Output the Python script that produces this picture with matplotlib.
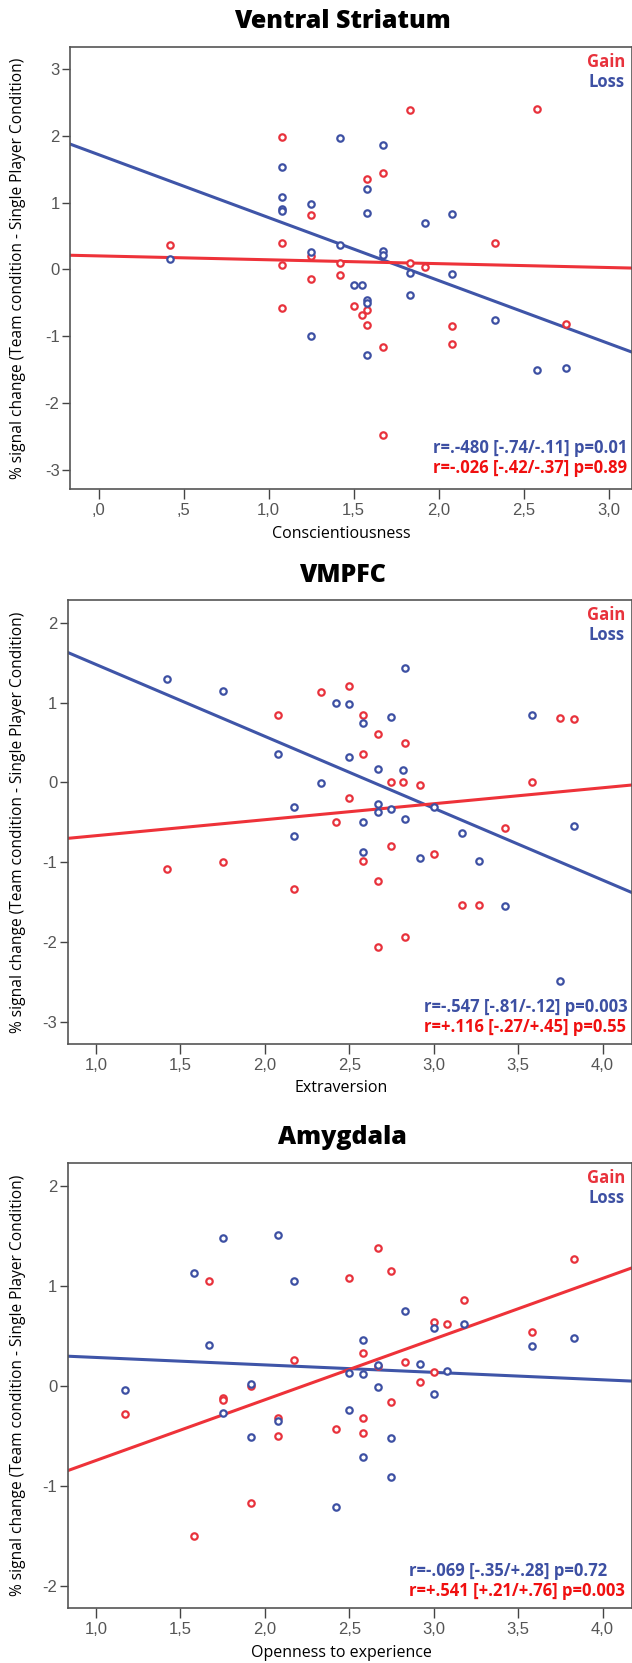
import numpy as np
import matplotlib
matplotlib.use("Agg")
import matplotlib.pyplot as plt

W, H = 632, 1663
RED = "#e8323c"
BLUE = "#3d50a3"
RED_TXT = "#f01010"

# ---- Ventral Striatum vs Conscientiousness ----
vs_gain_x = [0.42, 1.08, 1.08, 1.08, 1.08, 1.25, 1.25, 1.25, 1.42, 1.42, 1.50, 1.55, 1.58,
             1.58, 1.58, 1.67, 1.67, 1.67, 1.83, 1.83, 1.92, 2.08, 2.08, 2.33, 2.58, 2.75]
vs_gain_y = [0.36, 1.98, 0.40, 0.06, -0.58, 0.81, 0.20, -0.15, 0.09, -0.08, -0.54, -0.68, 1.35,
             -0.60, -0.83, 1.44, -1.16, -2.48, 2.39, 0.09, 0.04, -0.84, -1.11, 0.40, 2.40, -0.82]
vs_loss_x = [0.42, 1.08, 1.08, 1.08, 1.08, 1.25, 1.25, 1.25, 1.42, 1.42, 1.50, 1.55, 1.58, 1.58,
             1.58, 1.58, 1.58, 1.67, 1.67, 1.67, 1.83, 1.83, 1.92, 2.08, 2.08, 2.33, 2.58, 2.75]
vs_loss_y = [0.15, 1.54, 1.09, 0.91, 0.88, 0.98, 0.26, -1.00, 1.97, 0.37, -0.23, -0.23, 1.21, 0.85,
             -0.46, -0.50, -1.28, 1.87, 0.28, 0.22, -0.05, -0.38, 0.70, 0.83, -0.07, -0.75, -1.51, -1.47]
vs_fit_gain = (0.203, -0.058)   # intercept, slope
vs_fit_loss = (1.718, -0.942)

# ---- VMPFC vs Extraversion ----
vm_gain_x = [1.42, 1.75, 2.08, 2.17, 2.33, 2.42, 2.50, 2.50, 2.58, 2.58, 2.58, 2.67, 2.67, 2.67,
             2.75, 2.75, 2.82, 2.83, 2.83, 2.92, 3.00, 3.17, 3.27, 3.42, 3.58, 3.75, 3.83]
vm_gain_y = [-1.08, -1.00, 0.85, -1.33, 1.13, -0.50, 1.21, -0.20, 0.84, 0.35, -0.98, 0.61, -1.23, -2.06,
             0.00, -0.80, 0.00, 0.49, -1.94, -0.03, -0.89, -1.53, -1.53, -0.57, 0.00, 0.81, 0.79]
vm_loss_x = [1.42, 1.75, 2.08, 2.17, 2.17, 2.33, 2.42, 2.50, 2.50, 2.58, 2.58, 2.58, 2.67, 2.67,
             2.67, 2.75, 2.75, 2.82, 2.83, 2.83, 2.92, 3.00, 3.17, 3.27, 3.42, 3.58, 3.75, 3.83]
vm_loss_y = [1.29, 1.15, 0.35, -0.31, -0.67, -0.01, 1.00, 0.98, 0.32, 0.74, -0.49, -0.87, 0.17, -0.27,
             -0.37, 0.82, -0.33, 0.15, 1.43, -0.46, -0.95, -0.31, -0.63, -0.98, -1.55, 0.85, -2.48, -0.55]
vm_fit_gain = (-0.867, 0.200)
vm_fit_loss = (2.377, -0.900)

# ---- Amygdala vs Openness ----
am_gain_x = [1.17, 1.58, 1.67, 1.75, 1.75, 1.92, 1.92, 2.08, 2.08, 2.17, 2.42, 2.50, 2.58, 2.58,
             2.58, 2.67, 2.67, 2.75, 2.75, 2.83, 2.92, 3.00, 3.00, 3.08, 3.18, 3.58, 3.83]
am_gain_y = [-0.28, -1.50, 1.05, -0.12, -0.14, 0.00, -1.17, -0.32, -0.50, 0.26, -0.43, 1.08, 0.33, -0.32,
             -0.47, 1.38, 0.20, 1.15, -0.16, 0.24, 0.04, 0.64, 0.14, 0.62, 0.86, 0.54, 1.27]
am_loss_x = [1.17, 1.58, 1.67, 1.75, 1.75, 1.92, 1.92, 2.08, 2.08, 2.17, 2.42, 2.50, 2.50, 2.58,
             2.58, 2.58, 2.67, 2.67, 2.75, 2.75, 2.83, 2.92, 3.00, 3.00, 3.08, 3.18, 3.58, 3.83]
am_loss_y = [-0.04, 1.13, 0.41, 1.48, -0.27, 0.02, -0.51, 1.51, -0.35, 1.05, -1.21, 0.13, -0.24, 0.46,
             0.12, -0.71, 0.21, -0.01, -0.52, -0.91, 0.75, 0.22, 0.58, -0.08, 0.15, 0.62, 0.40, 0.48]
am_fit_gain = (-1.352, 0.607)
am_fit_loss = (0.360, -0.0745)

panels = [
    dict(title="Ventral Striatum", xlabel="Conscientiousness",
         gx=vs_gain_x, gy=vs_gain_y, lx=vs_loss_x, ly=vs_loss_y,
         fg=vs_fit_gain, fl=vs_fit_loss,
         xlim=(-0.169, 3.137), ylim=(-3.29, 3.334),
         xticks=[0, 0.5, 1, 1.5, 2, 2.5, 3], yticks=[-3, -2, -1, 0, 1, 2, 3],
         stat_loss="r=.-480 [-.74/-.11] p=0.01", stat_gain="r=-.026 [-.42/-.37] p=0.89",
         box=(70, 46.7, 632, 489.3), title_y=21, xlab_y=534, stat_x=433, stat_y=(448, 468)),
    dict(title="VMPFC", xlabel="Extraversion",
         gx=vm_gain_x, gy=vm_gain_y, lx=vm_loss_x, ly=vm_loss_y,
         fg=vm_fit_gain, fl=vm_fit_loss,
         xlim=(0.833, 4.174), ylim=(-3.28, 2.29),
         xticks=[1, 1.5, 2, 2.5, 3, 3.5, 4], yticks=[-3, -2, -1, 0, 1, 2],
         stat_loss="r=-.547 [-.81/-.12] p=0.003", stat_gain="r=+.116 [-.27/+.45] p=0.55",
         box=(67.7, 599.5, 632, 1044.4), title_y=575, xlab_y=1088, stat_x=424, stat_y=(1007.5, 1027.5)),
    dict(title="Amygdala", xlabel="Openness to experience",
         gx=am_gain_x, gy=am_gain_y, lx=am_loss_x, ly=am_loss_y,
         fg=am_fit_gain, fl=am_fit_loss,
         xlim=(0.833, 4.174), ylim=(-2.22, 2.23),
         xticks=[1, 1.5, 2, 2.5, 3, 3.5, 4], yticks=[-2, -1, 0, 1, 2],
         stat_loss="r=-.069 [-.35/+.28] p=0.72", stat_gain="r=+.541 [+.21/+.76] p=0.003",
         box=(67.7, 1163, 632, 1608), title_y=1137, xlab_y=1653, stat_x=409, stat_y=(1571, 1591.5)),
]


def fx(px):
    return px / W


def fy(py):
    return 1 - py / H


def fmt_tick(v):
    s = "%.1f" % v
    if s.startswith("0."):
        s = s[1:]
    return s.replace(".", ",")


fig = plt.figure(figsize=(W / 100, H / 100), dpi=100)
sans = ["Open Sans", "DejaVu Sans"]

for p in panels:
    l, t, r, b = p["box"]
    ax = fig.add_axes([fx(l), fy(b), fx(r) - fx(l), fy(t) - fy(b)])
    ax.set_xlim(*p["xlim"])
    ax.set_ylim(*p["ylim"])

    xs = np.array(p["xlim"])
    ax.plot(xs, p["fl"][0] + p["fl"][1] * xs, color="#3f55a8", lw=2.2, zorder=2)
    ax.plot(xs, p["fg"][0] + p["fg"][1] * xs, color="#ee3239", lw=2.2, zorder=2)
    ax.plot(p["gx"], p["gy"], "o", ms=4.6, mfc="white", mec=RED, mew=1.6, zorder=3)
    ax.plot(p["lx"], p["ly"], "o", ms=4.6, mfc="white", mec=BLUE, mew=1.6, zorder=3)

    ax.set_xticks(p["xticks"])
    ax.set_xticklabels([fmt_tick(v) for v in p["xticks"]])
    ax.set_yticks(p["yticks"])
    ax.set_yticklabels([str(v) for v in p["yticks"]])
    ax.tick_params(axis="x", direction="out", length=7, width=1, color="#444",
                   labelsize=12, labelcolor="#555", pad=3)
    ax.tick_params(axis="y", direction="out", length=6, width=1, color="#444",
                   labelsize=12, labelcolor="#555", pad=1.5)
    for lab in ax.get_xticklabels() + ax.get_yticklabels():
        lab.set_family("Liberation Sans")
    for sp in ax.spines.values():
        sp.set_color("#555")
        sp.set_linewidth(1.2)

    fig.text(fx(342), fy(p["title_y"]), p["title"], ha="center", va="center",
             fontsize=18, fontweight=800, family=sans)
    fig.text(fx(341), fy(p["xlab_y"]), p["xlabel"], ha="center", va="center",
             fontsize=11.5, family=sans)
    fig.text(fx(18), fy((t + b) / 2), "% signal change (Team condition - Single Player Condition)",
             rotation=90, ha="center", va="center", fontsize=11.2, family=sans)
    fig.text(fx(625), fy(t + 15), "Gain", ha="right", va="center", color=RED,
             fontsize=12, fontweight="bold", family=sans)
    fig.text(fx(625), fy(t + 35), "Loss", ha="right", va="center", color=BLUE,
             fontsize=12, fontweight="bold", family=sans)
    fig.text(fx(p["stat_x"]), fy(p["stat_y"][0]), p["stat_loss"], ha="left", va="center",
             color=BLUE, fontsize=12, fontweight="bold", family=sans)
    fig.text(fx(p["stat_x"]), fy(p["stat_y"][1]), p["stat_gain"], ha="left", va="center",
             color=RED_TXT, fontsize=12, fontweight="bold", family=sans)

fig.savefig("out.png", dpi=100)
